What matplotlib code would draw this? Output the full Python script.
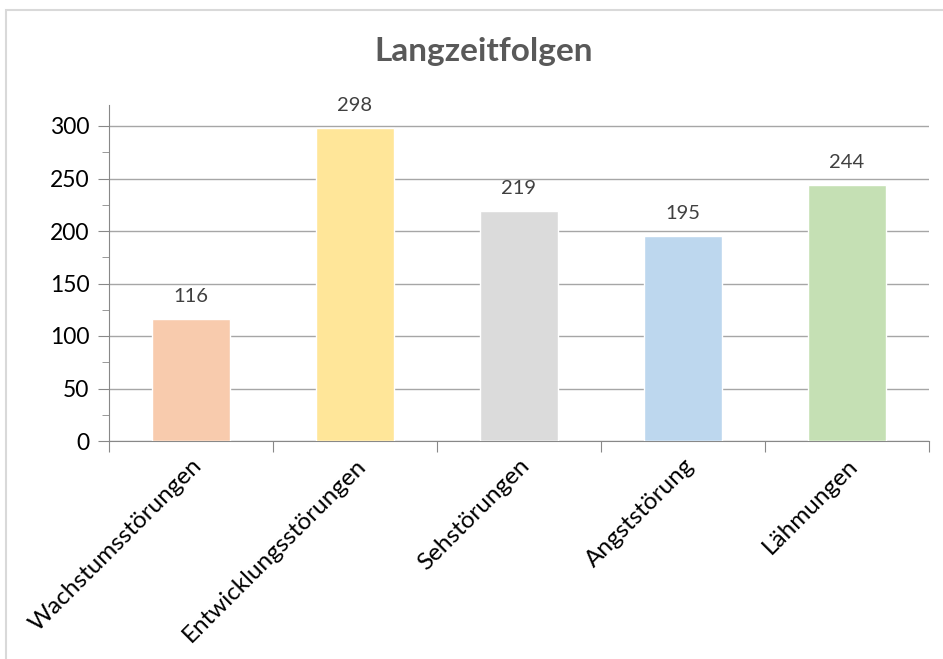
import matplotlib.pyplot as plt
from matplotlib.patches import Rectangle
from matplotlib.ticker import MultipleLocator

categories = ['Wachstumsstörungen', 'Entwicklungsstörungen', 'Sehstörungen', 'Angststörung', 'Lähmungen']
values = [116, 298, 219, 195, 244]
colors = ['#F8CBAD', '#FFE699', '#DBDBDB', '#BDD7EE', '#C5E0B4']

plt.rcParams['font.family'] = ['Lato', 'DejaVu Sans']

fig = plt.figure(figsize=(9.43, 6.59), dpi=100)
W, H = 943, 659
ax = fig.add_axes([109 / W, 1 - 441 / H, (929 - 109) / W, (441 - 105) / H])

x = range(len(categories))
ax.bar(x, values, width=0.48, color=colors, edgecolor='white', linewidth=1, zorder=3)
for i, v in enumerate(values):
    ax.annotate(str(v), (i, v), xytext=(0, 10), textcoords='offset points',
                ha='center', va='bottom', fontsize=14.5, color='#404040')

ax.set_xlim(-0.5, len(categories) - 0.5)
ax.set_ylim(0, 320)
ax.set_yticks(range(0, 301, 50))
ax.yaxis.set_minor_locator(MultipleLocator(25))
ax.grid(axis='y', color='#A6A6A6', linewidth=1, zorder=0)
ax.tick_params(axis='y', which='major', length=8, color='#888888', labelsize=16.5, pad=6)
ax.tick_params(axis='y', which='minor', length=5, color='#888888')

# category ticks at the boundaries, labels in the middle
ax.set_xticks([i - 0.5 for i in range(len(categories) + 1)])
ax.set_xticklabels([])
ax.tick_params(axis='x', which='major', length=8, color='#888888')
ax.set_xticks(list(x), minor=True)
ax.set_xticklabels(categories, minor=True, rotation=45, ha='right', va='top',
                   rotation_mode='anchor', fontsize=17.5)
ax.tick_params(axis='x', which='minor', length=0, pad=10)

for s in ['top', 'right']:
    ax.spines[s].set_visible(False)
ax.spines['left'].set_color('#888888')
ax.spines['bottom'].set_color('#888888')

fig.text(484 / W, 1 - 52 / H, 'Langzeitfolgen', ha='center', va='center',
         fontsize=24, fontweight='bold', color='#595959')

fig.patches.append(Rectangle((6 / W, -0.1), 1.2, 1 - 10 / H + 0.1, transform=fig.transFigure,
                             fill=False, edgecolor='#D9D9D9', linewidth=1.5))

fig.savefig('out.png', dpi=100)
